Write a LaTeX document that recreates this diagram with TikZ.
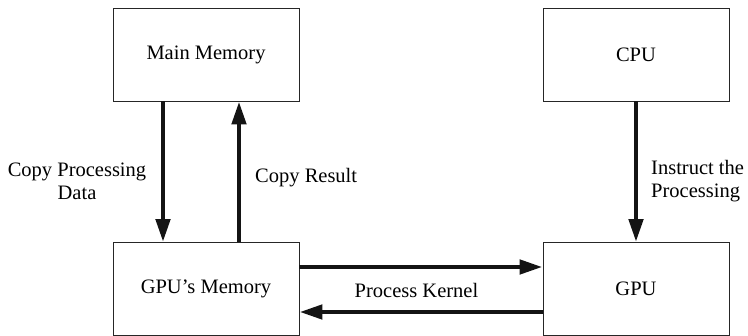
\documentclass[tikz,border=0pt]{standalone}
\usepackage{fontspec}
\setmainfont{Liberation Serif}
\usetikzlibrary{arrows.meta}
\begin{document}
\begin{tikzpicture}[x=1pt,y=-1pt,
  box/.style={draw=black!85,line width=0.9pt,minimum width=186pt,minimum height=93pt,inner sep=0pt,
    font=\fontsize{20.5}{23}\selectfont},
  lbl/.style={font=\fontsize{20.5}{23}\selectfont,inner sep=0pt},
  conn/.style={line width=4.6pt,draw=black!92,-{Triangle[length=23pt,width=14pt]}}]
\useasboundingbox (0,0) rectangle (748,336);
\node[box] (mm) at (206,54.5) {Main Memory};
\node[box] (cpu) at (636,54.5) {CPU};
\node[box] (gm) at (206,289) {GPU's Memory};
\node[box] (gpu) at (636,289) {GPU};
\draw[conn] (mm.south -| 163,0) -- (gm.north -| 163,0);
\draw[conn] (gm.north -| 239,0) -- (mm.south -| 239,0);
\draw[conn] (cpu.south) -- (gpu.north);
\draw[conn] (gm.east |- 0,267) -- (gpu.west |- 0,267);
\draw[conn] (gpu.west |- 0,312) -- (gm.east |- 0,312);
\node[lbl,align=center] (l1) at (77,181) {Copy Processing\\Data};
\node[lbl,anchor=west] (l2) at (255,178) {Copy Result};
\node[lbl,align=left,anchor=west] (l3) at (651,181) {Instruct the\\Processing};
\node[lbl] (l4) at (416.5,290) {Process Kernel};
\end{tikzpicture}
\end{document}
